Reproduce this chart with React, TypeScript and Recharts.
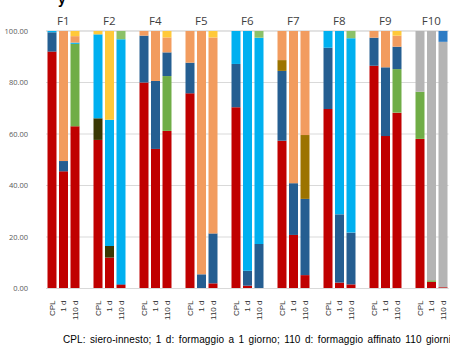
import { BarChart, Bar, XAxis, YAxis, CartesianGrid, Customized } from "recharts";

// groups and sample labels
const groups = ["F1", "F2", "F4", "F5", "F6", "F7", "F8", "F9", "F10"];
const samples = ["CPL", "1 d", "110 d"];

// percentages per bar, order: F1 CPL, F1 1d, F1 110d, F2 CPL, ...
const red = [92, 45.5, 63, 57.7, 12, 1.4, 80, 54.2, 61.2, 75.8, 0, 2, 70.4, 1.1, 0.2, 57.4, 20.8, 5.2, 69.7, 2.3, 1.6, 86.5, 59.2, 68.3, 58.1, 2.6, 0.5];
const greenLow = [0, 0, 32, 0, 0, 0, 0, 0, 21.3, 0, 0, 0, 0, 0, 0, 0, 0, 0, 0, 0, 0, 0, 0, 16.9, 18.3, 0.6, 0];
const olive = [0, 0, 0, 8.4, 4.5, 0, 0, 0, 0, 0, 0, 0, 0, 0, 0, 0, 0, 0, 0, 0, 0, 0, 0, 0, 0, 0, 0];
const darkBlue = [7.5, 4, 0, 0, 0, 0.3, 18.2, 26.4, 9.2, 11.9, 5.5, 19.4, 16.8, 5.8, 17.1, 27.1, 20.1, 29.6, 23.8, 26.5, 20.1, 10.9, 26.7, 8.7, 0, 0, 0];
const brown = [0, 0, 0, 0, 0, 0, 0, 0, 0, 0, 0, 0, 0, 0, 0, 4.2, 0, 24.8, 0, 0, 0, 0, 0, 0, 0, 0, 0];
const lightBlue = [0.5, 0, 0.5, 32.6, 49, 95.1, 0, 0, 0, 0, 0, 0, 12.8, 93.1, 80.1, 0, 0, 0, 6.5, 71.2, 75.5, 0, 0, 0, 0, 0, 0];
const greenTop = [0, 0, 0, 0, 0, 3.2, 0, 0, 0, 0, 0, 0, 0, 0, 2.6, 0, 0, 0, 0, 0, 2.8, 0, 0, 0, 0, 0, 0];
const orange = [0, 50.5, 2.5, 0, 0, 0, 1.8, 19.4, 5.8, 12.3, 94.5, 76.1, 0, 0, 0, 11.3, 59.1, 40.4, 0, 0, 0, 2.6, 14.1, 4.3, 0, 0, 0];
const yellow = [0, 0, 2, 1.3, 34.5, 0, 0, 0, 2.5, 0, 0, 2.5, 0, 0, 0, 0, 0, 0, 0, 0, 0, 0, 0, 1.8, 0, 0, 0];
const gray = [0, 0, 0, 0, 0, 0, 0, 0, 0, 0, 0, 0, 0, 0, 0, 0, 0, 0, 0, 0, 0, 0, 0, 0, 23.6, 96.8, 95.3];
const blue = [0, 0, 0, 0, 0, 0, 0, 0, 0, 0, 0, 0, 0, 0, 0, 0, 0, 0, 0, 0, 0, 0, 0, 0, 0, 0, 4.2];

const yTicks = [0, 20, 40, 60, 80, 100];

const series = [
  { key: "red", values: red, color: "#C00000" },
  { key: "greenLow", values: greenLow, color: "#70AD47" },
  { key: "olive", values: olive, color: "#3A3804" },
  { key: "darkBlue", values: darkBlue, color: "#255E91" },
  { key: "brown", values: brown, color: "#9C7300" },
  { key: "lightBlue", values: lightBlue, color: "#00B0F0" },
  { key: "greenTop", values: greenTop, color: "#8CC168" },
  { key: "orange", values: orange, color: "#F29C5F" },
  { key: "yellow", values: yellow, color: "#FFC93A" },
  { key: "gray", values: gray, color: "#B4B4B4" },
  { key: "blue", values: blue, color: "#2E7CC4" },
];

// build rows, with an empty slot between groups
const data: any[] = [];
groups.forEach((g, gi) => {
  if (gi > 0) data.push({ name: "", group: "", label: "" });
  samples.forEach((s, si) => {
    const i = gi * 3 + si;
    const row: any = { name: `${g}-${s}`, group: si === 1 ? g : "", label: s };
    series.forEach((ser) => (row[ser.key] = ser.values[i]));
    data.push(row);
  });
});

const SampleTick = (props: any) => {
  const { x, y, index } = props;
  const label = data[index]?.label;
  if (!label) return null;
  const ty = y + 4;
  return (
    <text
      x={x}
      y={ty}
      transform={`rotate(-90, ${x}, ${ty})`}
      textAnchor="end"
      dy="0.35em"
      fontSize={8}
      fontFamily="Liberation Sans, Arial, sans-serif"
      fill="#333"
    >
      {label}
    </text>
  );
};

const GroupTick = (props: any) => {
  const { x, index } = props;
  const g = data[index]?.group;
  if (!g) return null;
  return (
    <text x={x} y={25} textAnchor="middle" fontSize={11.5} fontFamily="Open Sans, sans-serif" fill="#404040">
      {g}
    </text>
  );
};

const Footnote = () => (
  <g>
    <text x={58} y={4} fontSize={14} fontWeight="bold" fontFamily="Liberation Sans, Arial, sans-serif" fill="#000">
      y
    </text>
    <text
      x={63}
      y={343}
      fontSize={10}
      letterSpacing={0.1}
      wordSpacing={1.5}
      fontFamily="Liberation Sans, Arial, sans-serif"
      fill="#000"
    >
      CPL: siero-innesto; 1 d: formaggio a 1 giorno; 110 d: formaggio affinato 110 giorni
    </text>
  </g>
);

export default function App() {
  return (
    <div style={{ position: "absolute", left: 0, top: 0, width: 450, height: 347, background: "#fff" }}>
      <BarChart
        width={450}
        height={347}
        data={data}
        margin={{ top: 0, right: 1.5, left: 0, bottom: 23.5 }}
        barCategoryGap={1.5}
      >
        <CartesianGrid vertical={false} stroke="#D9D9D9" />
        <XAxis
          xAxisId="top"
          orientation="top"
          dataKey="name"
          height={31}
          axisLine={false}
          tickLine={false}
          interval={0}
          tick={<GroupTick />}
        />
        <XAxis
          dataKey="name"
          height={35}
          axisLine={{ stroke: "#D9D9D9" }}
          tickLine={false}
          interval={0}
          tick={<SampleTick />}
        />
        <YAxis
          domain={[0, 100]}
          ticks={yTicks}
          width={46}
          axisLine={false}
          tickLine={false}
          tickSize={0}
          tickMargin={14}
          tickFormatter={(v: number) => v.toFixed(2)}
          tick={{ fontSize: 7.5, fill: "#595959", fontFamily: "Open Sans, sans-serif", dx: -4 }}
        />
        {series.map((ser) => (
          <Bar key={ser.key} dataKey={ser.key} stackId="a" fill={ser.color} isAnimationActive={false} />
        ))}
        <Customized component={Footnote} />
      </BarChart>
    </div>
  );
}
